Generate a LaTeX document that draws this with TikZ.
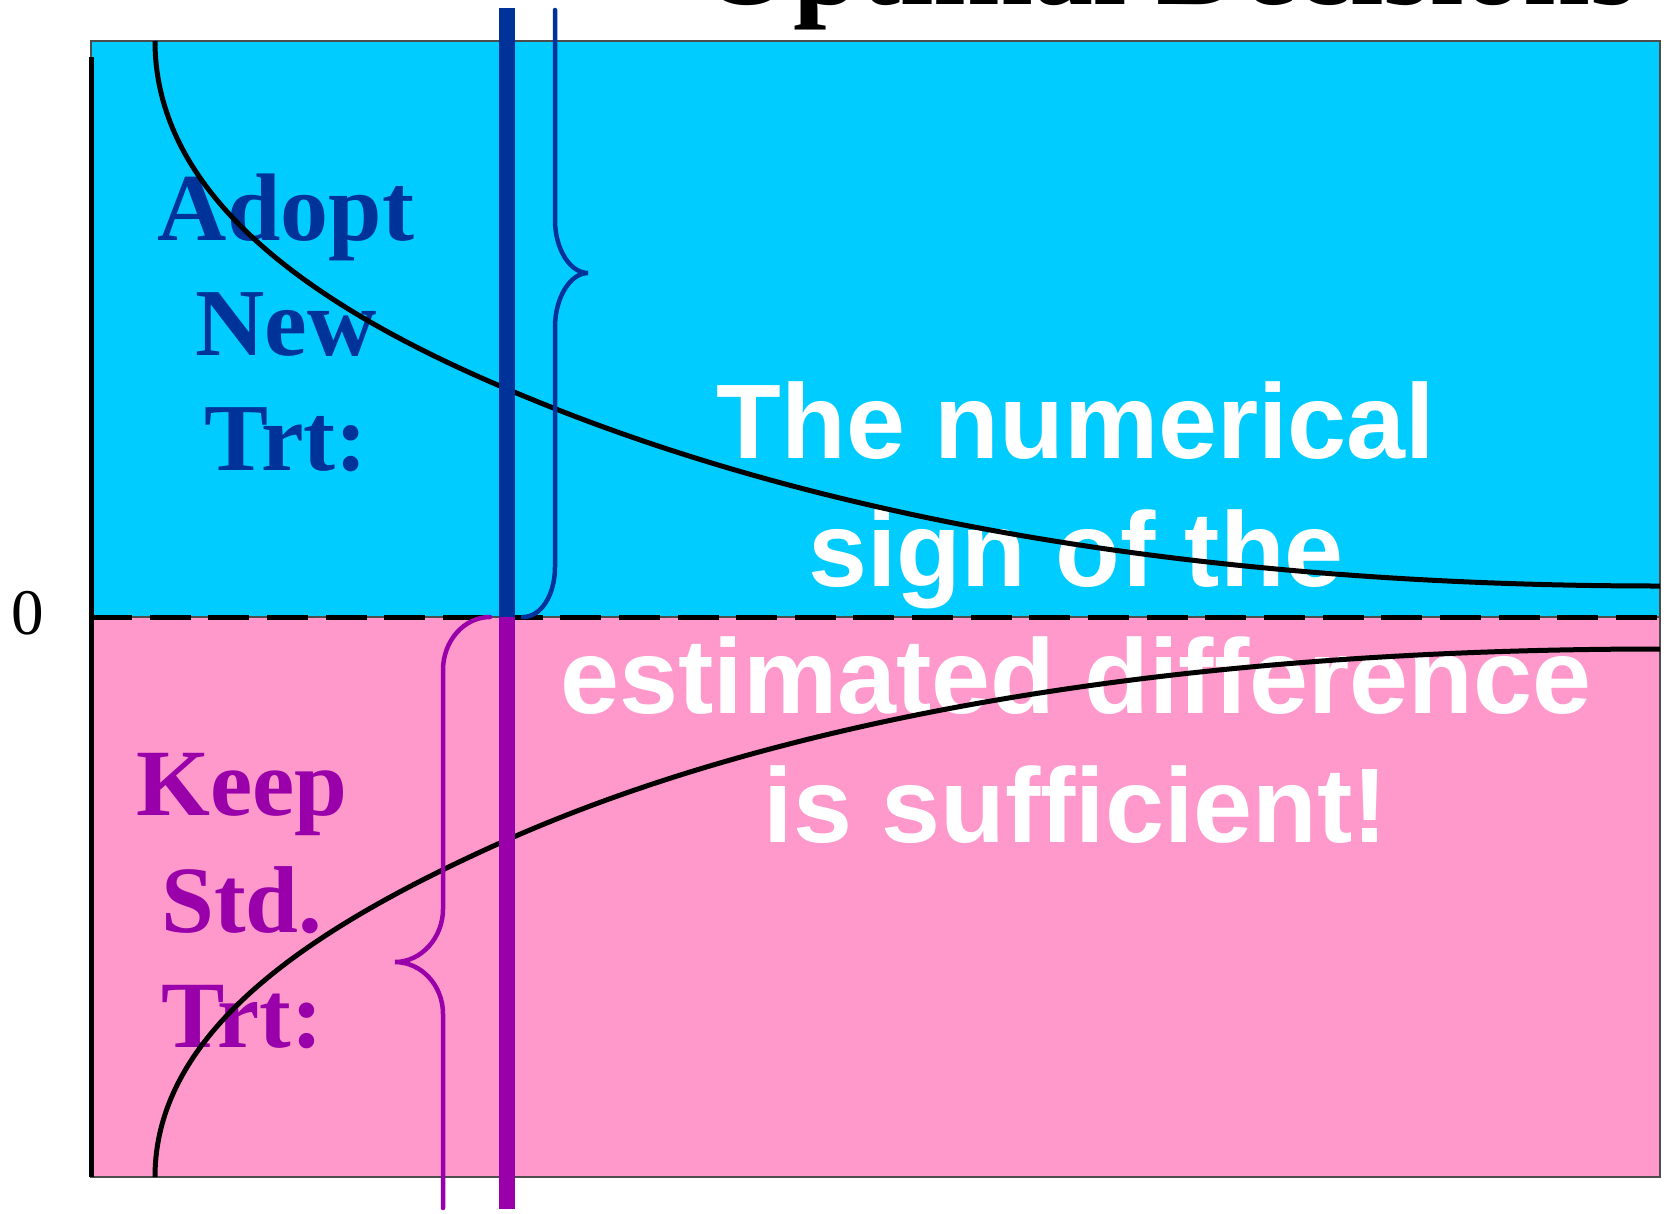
\documentclass[tikz,border=0pt]{standalone}
\usepackage{fontspec}
\setmainfont{Liberation Serif}
\newfontfamily\arialfont{Liberation Sans}
\definecolor{bgblue}{HTML}{00CCFF}
\definecolor{bgpink}{HTML}{FF99CC}
\definecolor{darkblue}{HTML}{003399}
\definecolor{purp}{HTML}{9900AA}
\definecolor{edgegray}{HTML}{4D4D4D}
\begin{document}
\begin{tikzpicture}[x=1pt,y=-1pt,
  adopttext/.style={anchor=base, inner sep=0pt, text=darkblue, font=\fontsize{96}{96}\selectfont\bfseries},
  keeptext/.style={anchor=base, inner sep=0pt, text=purp, font=\fontsize{95}{95}\selectfont\bfseries},
  wtext/.style={anchor=base, inner sep=0pt, text=white, font=\arialfont\fontsize{106}{106}\selectfont\bfseries},
  curveline/.style={line width=5pt, black},
  braceline/.style={line width=4.5pt, line cap=round},
  barline/.style={line width=16pt},
  regionedge/.style={line width=1.5pt, draw=edgegray}]
\useasboundingbox (0,0) rectangle (1667,1213);
\clip (0,0) rectangle (1667,1213);

% regions
\fill[bgblue] (91,41) rectangle (1660,617);
\fill[bgpink] (91,617) rectangle (1660,1177);
\draw[regionedge] (91,41) rectangle (1660,617);
\draw[regionedge] (91,617) rectangle (1660,1177);

% title (cut off at the top)
\node[anchor=base west, inner sep=0pt, font=\fontsize{120}{120}\selectfont\bfseries] (title) at (700,4) {Optimal Decisions};

% labels
\node[adopttext] (adopt1) at (286,240) {Adopt};
\node[adopttext] (adopt2) at (286,355) {New};
\node[adopttext] (adopt3) at (286,470) {Trt:};
\node[keeptext] (keep1) at (242,815) {Keep};
\node[keeptext] (keep2) at (242,932) {Std.};
\node[keeptext] (keep3) at (242,1047) {Trt:};
\node[wtext] (msg1) at (1076,458) {The numerical};
\node[wtext] (msg2) at (1076,586) {sign of the};
\node[wtext] (msg3) at (1076,713) {estimated difference};
\node[wtext] (msg4) at (1076,842) {is sufficient!};
\node[anchor=base, inner sep=0pt, font=\fontsize{65}{65}\selectfont] (zero) at (28,634) {0};

% curves
\draw[curveline] (155,41) .. controls (155,200) and (320,309) .. (500,386)
  .. controls (700,472) and (1060,586) .. (1660,586);
\draw[curveline] (155,1177) .. controls (155,1027) and (320,924) .. (500,843)
  .. controls (700,753) and (1060,649) .. (1660,649);

% axis and zero line
\coordinate (axtop) at (91,57);
\coordinate (axbot) at (91,1177);
\draw[line width=5pt] (axtop) -- (axbot);
\coordinate (zl) at (91,617);
\coordinate (zr) at (1660,617);
\draw[line width=5pt, dash pattern=on 41pt off 17.65pt] (zl) -- (zr);

% thick vertical bar
\coordinate (bartop) at (507,8);
\coordinate (barmid) at (507,617);
\coordinate (barbot) at (507,1209);
\draw[barline, darkblue] (bartop) -- (barmid);
\draw[barline, purp] (barmid) -- (barbot);

% braces
\draw[braceline, darkblue] (555,10) -- (555,220) .. controls (555,249) and (570,273) .. (588,273) .. controls (570,273) and (555,298) .. (555,327) -- (555,567) .. controls (555,595) and (541,617) .. (523,617);
\draw[braceline, purp] (490,617) .. controls (464,617) and (443,641) .. (443,670) -- (443,909) .. controls (443,938) and (421,962) .. (395,962) .. controls (421,962) and (443,985) .. (443,1014) -- (443,1208);
\end{tikzpicture}
\end{document}
